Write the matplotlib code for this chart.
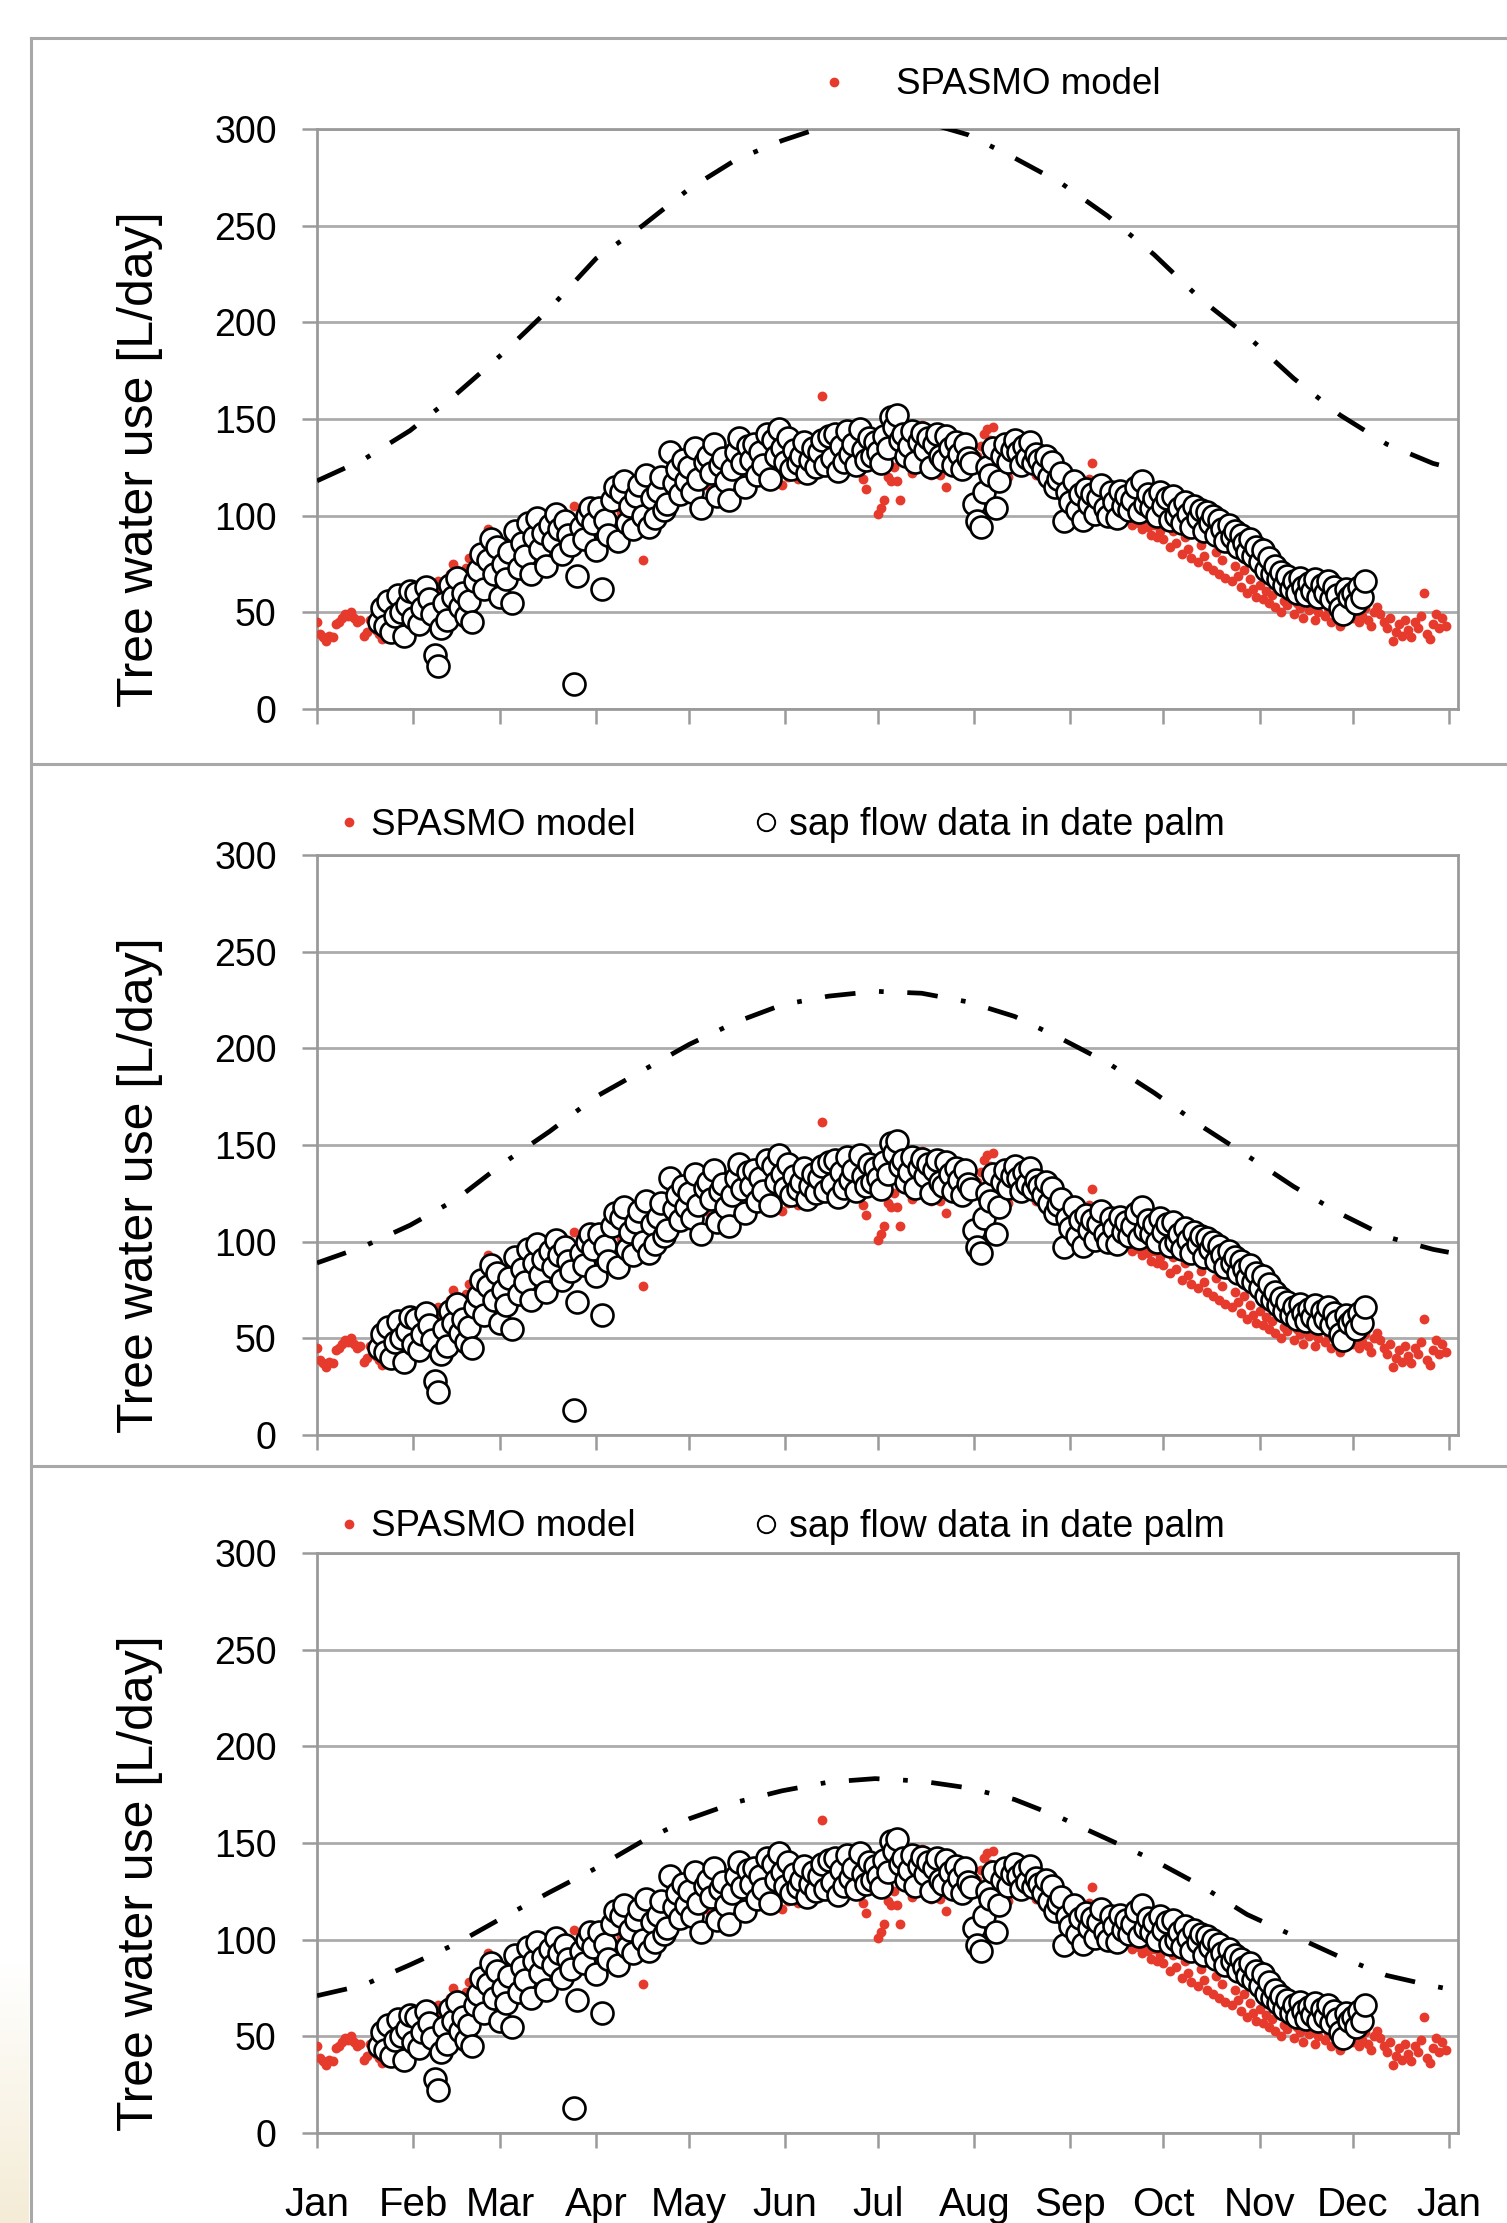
import numpy as np
import matplotlib
matplotlib.use("Agg")
import matplotlib.pyplot as plt
from matplotlib.lines import Line2D
from matplotlib.colors import LinearSegmentedColormap

plt.rcParams['font.family'] = ['Liberation Sans', 'DejaVu Sans']

# x axis: day of year, ticks at the first day of each month
month_days = [0, 31, 59, 90, 120, 151, 181, 212, 243, 273, 304, 334, 365]
month_labels = ["Jan", "Feb", "Mar", "Apr", "May", "Jun", "Jul",
                "Aug", "Sep", "Oct", "Nov", "Dec", "Jan"]

# SPASMO model, one value per day starting Jan 1 (L/day)
spasmo_jan = [45, 39, 37, 35, 38, 37, 44, 45, 47, 49, 48, 50, 47, 45, 46, 38,
              40, 46, 43, 41, 39, 36, 37, 42, 47, 44, 50, 53, 49, 56, 60]
spasmo_feb = [62, 58, 55, 60, 64, 57, 52, 61, 66, 59, 66, 63, 70, 75, 72, 68,
              65, 73, 78, 71, 69, 76, 80, 74, 93, 85, 79, 88]
spasmo_mar = [82, 86, 78, 90, 84, 80, 88, 75, 83, 91, 86, 79, 94, 88, 85, 92,
              87, 81, 96, 90, 84, 98, 93, 88, 105, 95, 90, 99, 94, 101, 97]
spasmo_apr = [92, 88, 96, 100, 94, 104, 98, 93, 102, 107, 99, 96, 105, 110, 103,
              77, 112, 106, 101, 109, 114, 108, 104, 111, 116, 110, 107, 113, 118, 112]
spasmo_may = [115, 109, 118, 104, 120, 116, 122, 113, 119, 125, 117, 121, 127, 120,
              115, 123, 129, 118, 124, 130, 123, 119, 126, 132, 121, 116, 128, 124,
              118, 133, 116]
spasmo_jun = [125, 120, 130, 127, 119, 134, 128, 124, 131, 139, 127, 122, 162, 129,
              125, 133, 137, 128, 123, 130, 135, 126, 124, 124, 132, 119, 114, 129,
              136, 127]
spasmo_jul = [101, 104, 108, 120, 118, 125, 118, 108, 130, 136, 128, 122, 134, 140,
              147, 131, 126, 121, 133, 138, 121, 127, 115, 129, 135, 124, 130, 137,
              126, 133, 128]
spasmo_aug = [124, 131, 136, 142, 145, 139, 146, 133, 128, 137, 125, 120, 132, 127,
              135, 129, 123, 131, 126, 134, 121, 128, 122, 118, 124, 119, 115, 120,
              113, 117, 110]
spasmo_sep = [112, 108, 115, 106, 110, 104, 119, 127, 112, 105, 109, 102, 107, 100,
              104, 98, 101, 97, 103, 99, 95, 100, 96, 93, 98, 94, 90, 95, 89, 92]
spasmo_oct = [88, 95, 84, 92, 86, 97, 80, 89, 83, 78, 91, 76, 85, 79, 74, 88, 72,
              81, 70, 77, 68, 83, 66, 74, 69, 63, 72, 60, 67, 62, 58]
spasmo_nov = [64, 57, 61, 55, 59, 53, 62, 50, 56, 54, 58, 49, 55, 52, 47, 56, 51,
              53, 46, 50, 55, 48, 52, 45, 51, 47, 43, 49, 46, 50]
spasmo_dec = [47, 51, 45, 48, 52, 46, 43, 50, 53, 49, 45, 42, 47, 35, 40, 44, 38,
              46, 41, 37, 45, 42, 48, 60, 39, 36, 44, 49, 42, 47, 43]
spasmo = (spasmo_jan + spasmo_feb + spasmo_mar + spasmo_apr + spasmo_may +
          spasmo_jun + spasmo_jul + spasmo_aug + spasmo_sep + spasmo_oct +
          spasmo_nov + spasmo_dec)

# sap flow data in date palm, one value per day from Jan 21 (day 20) to Dec 5
sap_first_day = 20
sap_jan = [45, 52, 43, 56, 40, 48, 59, 50, 38, 54, 61]
sap_feb = [47, 60, 44, 52, 63, 57, 49, 28, 22, 42, 55, 46, 64, 58, 68, 53, 60, 48,
           56, 45, 66, 72, 80, 62, 77, 88, 70, 84]
sap_mar = [58, 75, 67, 81, 55, 92, 73, 86, 79, 96, 70, 89, 99, 83, 91, 74, 95, 87,
           101, 93, 80, 97, 90, 85, 13, 69, 94, 88, 100, 104, 96]
sap_apr = [82, 104, 62, 98, 90, 108, 115, 87, 112, 118, 96, 105, 93, 110, 116, 100,
           121, 94, 109, 99, 113, 120, 103, 106, 133, 117, 124, 111, 129, 118]
sap_may = [125, 112, 135, 119, 104, 128, 131, 122, 137, 110, 126, 130, 118, 108,
           124, 133, 140, 127, 115, 136, 129, 137, 121, 133, 126, 142, 119, 139,
           131, 145, 135]
sap_jun = [128, 140, 124, 134, 127, 131, 138, 122, 129, 135, 125, 133, 139, 126,
           141, 130, 142, 123, 136, 128, 144, 132, 137, 126, 145, 134, 129, 140,
           131, 138]
sap_jul = [133, 127, 141, 135, 151, 146, 152, 139, 142, 131, 136, 144, 128, 138,
           143, 134, 140, 125, 137, 142, 131, 129, 141, 135, 126, 138, 132, 124,
           137, 130, 127]
sap_aug = [106, 97, 94, 112, 125, 121, 135, 104, 118, 131, 137, 128, 134, 139, 133,
           126, 136, 130, 138, 127, 132, 129, 124, 131, 120, 128, 115, 119, 122,
           97, 112]
sap_sep = [107, 118, 103, 111, 98, 114, 106, 111, 101, 109, 116, 104, 100, 112,
           107, 99, 113, 105, 110, 103, 108, 115, 102, 118, 106, 111, 104, 109,
           100, 112]
sap_oct = [105, 109, 98, 110, 100, 104, 96, 107, 101, 94, 105, 99, 103, 92, 102,
           96, 100, 90, 98, 93, 87, 95, 89, 92, 84, 90, 86, 81, 88, 79, 84]
sap_nov = [76, 82, 72, 78, 70, 74, 67, 71, 64, 69, 62, 66, 60, 68, 63, 59, 65, 61,
           67, 58, 64, 60, 66, 57, 63, 59, 52, 49, 62, 58]
sap_dec = [60, 55, 63, 58, 66]
sap_flow = (sap_jan + sap_feb + sap_mar + sap_apr + sap_may + sap_jun + sap_jul +
            sap_aug + sap_sep + sap_oct + sap_nov + sap_dec)

# dash-dot curves (one per panel), read every 15 days
curve_days = [0, 15, 30, 45, 60, 75, 90, 105, 120, 135, 150, 165, 180, 195, 210,
              225, 240, 255, 270, 285, 300, 315, 330, 345, 360, 365]
curve_top = [118, 129, 144, 163, 184, 207, 233, 250, 269, 284, 294, 302, 308, 304,
             297, 285, 272, 255, 235, 212, 193, 171, 152, 137, 127, 125]
curve_mid = [89, 97.5, 108.5, 122, 140.5, 157, 175, 188.5, 202, 213.5, 222.5, 227,
             229.5, 228.5, 224, 216.5, 205, 192.5, 177, 160, 144.5, 128.5, 114.5,
             102.5, 96, 94.5]
curve_bottom = [71, 76.5, 87, 98, 111.5, 124.5, 137, 151, 162.5, 171, 177, 181.5,
                183.3, 182, 178.5, 172.5, 163, 152, 141, 128, 113, 102, 91, 81.5,
                76, 74.5]

W, H = 1507, 2223
RED = "#e63a2d"
GRAY = "#9a9a9a"

fig = plt.figure(figsize=(W / 100, H / 100), dpi=100)

# soft beige corner at the bottom left
corner = fig.add_axes([0, 0, 29 / W, 263 / H])
corner.imshow(np.linspace(1, 0, 60)[:, None], aspect="auto",
              cmap=LinearSegmentedColormap.from_list("c", ["#f4ecd6", "#ffffff"]))
corner.axis("off")

# panel frame lines
frame_kw = dict(transform=fig.transFigure, color="#a8a8a8", lw=2.2)
fig.add_artist(Line2D([31 / W, 31 / W], [0, 1 - 38 / H], **frame_kw))
for yy in [38, 764, 1466]:
    fig.add_artist(Line2D([31 / W, 1], [1 - yy / H, 1 - yy / H], **frame_kw))

panel_bottoms = [709, 1435, 2133]
curves = [curve_top, curve_mid, curve_bottom]
days = np.arange(len(spasmo))
sap_days = np.arange(sap_first_day, sap_first_day + len(sap_flow))

for i, (pb, curve) in enumerate(zip(panel_bottoms, curves)):
    ax = fig.add_axes([317 / W, 1 - pb / H, 1141 / W, 580 / H])
    ax.scatter(days, spasmo, s=50, color=RED, linewidths=0, zorder=3)
    ax.scatter(sap_days, sap_flow, s=250, facecolor="white", edgecolor="black",
               linewidths=1.9, zorder=4)
    ax.plot(curve_days, curve, color="black", lw=3.4,
            linestyle=(0, (6.5, 5, 1, 5)), zorder=5)

    ax.set_xlim(0, 368)
    ax.set_ylim(0, 300)
    ax.set_yticks([0, 50, 100, 150, 200, 250, 300])
    ax.set_xticks(month_days)
    ax.yaxis.grid(True, color="#ababab", lw=2.0)
    ax.set_axisbelow(True)
    for sp in ax.spines.values():
        sp.set_color(GRAY)
        sp.set_linewidth(2.0)
    ax.tick_params(axis="both", direction="out", length=11, width=1.8, color=GRAY)
    ax.tick_params(axis="y", labelsize=27, pad=18)
    if i == 2:
        ax.set_xticklabels(month_labels)
        ax.tick_params(axis="x", labelsize=29, pad=27)
    else:
        ax.tick_params(axis="x", labelbottom=False)
    ax.set_ylabel("Tree water use [L/day]", fontsize=36)
    ax.yaxis.set_label_coords(-0.135, 0.43)

# legends
h_model = Line2D([], [], ls="none", marker="o", markersize=7, color=RED, mew=0)
h_sap = Line2D([], [], ls="none", marker="o", markersize=12.5,
               markerfacecolor="white", markeredgecolor="black", mew=1.4)
leg_kw = dict(loc="center left", frameon=False, borderpad=0, borderaxespad=0,
              fontsize=26.5, handlelength=0.6, handletextpad=0.3)

fig.legend([h_model], ["SPASMO model"], bbox_to_anchor=(816 / W, 1 - 85 / H),
           **dict(leg_kw, handlelength=1.0, handletextpad=1.18))
for y_leg in [825, 1527]:
    fig.legend([h_model], ["SPASMO model"], bbox_to_anchor=(338 / W, 1 - y_leg / H),
               **leg_kw)
    fig.legend([h_sap], ["sap flow data in date palm"],
               bbox_to_anchor=(755 / W, 1 - y_leg / H), **dict(leg_kw, fontsize=27))

fig.savefig("out.png", dpi=100)
